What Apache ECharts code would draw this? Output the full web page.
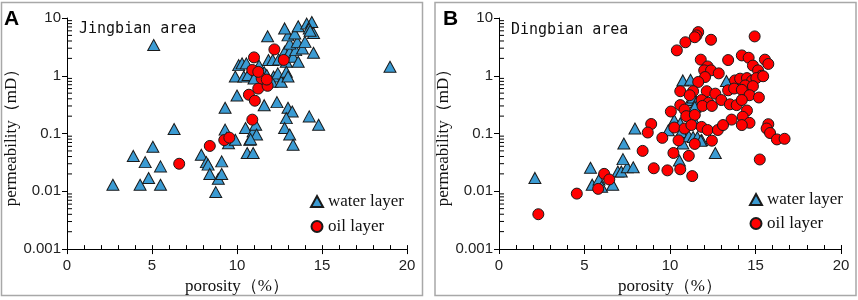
<!DOCTYPE html>
<html>
<head>
<meta charset="utf-8">
<script src="https://cdn.jsdelivr.net/npm/echarts@6/dist/echarts.min.js"></script>
<style>
  html, body { margin: 0; padding: 0; background: #fff; }
  #main { width: 858px; height: 300px; }
</style>
</head>
<body>
<div id="main"></div>
<script>
// porosity (%) vs permeability (mD)
var waterA = [
    [2.7, 0.013], [3.9, 0.041], [4.3, 0.013], [4.6, 0.032], [4.8, 0.017], [5.05, 0.059], [5.5, 0.027], [5.5, 0.013],
    [5.1, 3.4], [6.3, 0.12], [19.0, 1.43],
    [7.9, 0.043], [8.2, 0.032], [8.3, 0.029], [8.4, 0.020], [8.75, 0.0097], [8.9, 0.0165], [9.1, 0.033], [9.1, 0.020],
    [9.3, 0.117], [9.3, 0.28], [9.4, 0.084], [9.5, 0.068], [9.9, 0.078], [10.0, 0.455],
    [10.5, 0.125], [10.6, 0.046], [10.75, 0.078], [10.95, 0.046], [10.95, 0.109], [11.1, 0.142], [11.15, 0.096], [10.8, 0.08],
    [9.9, 0.97], [10.1, 1.53], [10.3, 1.64], [10.55, 1.64], [10.4, 0.97], [10.65, 1.03], [11.0, 0.9], [11.3, 1.5],
    [11.6, 1.15], [11.75, 1.03], [11.8, 4.84], [11.85, 1.87], [12.1, 1.87], [12.15, 0.97], [12.05, 0.79], [12.4, 1.1],
    [12.45, 1.92], [12.6, 0.79], [12.9, 1.75], [12.9, 1.17], [13.0, 0.97], [12.8, 2.6], [13.1, 2.6], [13.3, 2.14],
    [13.45, 2.78], [13.6, 1.75], [13.85, 2.97], [14.5, 2.5], [13.1, 3.6], [13.55, 3.86], [14.0, 3.86], [13.0, 5.0],
    [13.4, 5.4], [12.8, 6.6], [13.6, 7.2], [14.1, 8.0], [14.4, 8.5], [14.25, 6.6], [14.5, 5.5], [14.3, 6.0],
    [11.6, 0.31], [12.35, 0.35], [13.0, 0.28], [13.25, 0.24], [12.9, 0.185], [12.8, 0.125], [13.1, 0.096], [13.3, 0.064],
    [14.25, 0.198], [14.8, 0.142]
];
var oilA = [
    [6.6, 0.030], [8.4, 0.061], [9.25, 0.077], [9.55, 0.085], [10.9, 0.174], [10.7, 0.47], [11.05, 0.37], [11.25, 0.6],
    [11.8, 0.67], [11.45, 0.9], [11.75, 0.86], [10.9, 1.26], [11.25, 1.17], [11.0, 2.08], [12.2, 2.86], [12.75, 1.88]
];
var waterB = [
    [2.1, 0.017], [5.35, 0.0255], [5.45, 0.013], [5.85, 0.016], [6.0, 0.012], [6.65, 0.013], [6.95, 0.022], [7.15, 0.022],
    [7.5, 0.026], [7.85, 0.026], [7.25, 0.036], [7.3, 0.067], [7.95, 0.122], [9.9, 0.114], [10.25, 0.17], [10.6, 0.15],
    [10.65, 0.106], [10.75, 0.067], [10.55, 0.034], [11.1, 0.09], [11.35, 0.087], [11.6, 0.086], [11.85, 0.077],
    [11.45, 0.16], [11.2, 0.38], [11.35, 0.42], [11.55, 0.35], [11.45, 0.29], [10.75, 0.83], [11.2, 0.85], [13.3, 0.81],
    [12.65, 0.046], [11.8, 0.075]
];
var oilB = [
    [11.65, 5.7], [11.55, 5.0], [11.45, 4.65], [10.9, 3.8], [10.4, 2.75], [12.4, 4.2], [14.95, 4.8], [11.8, 1.9],
    [13.4, 1.87], [14.2, 2.25], [14.6, 2.05], [14.85, 1.5], [15.55, 1.9], [15.75, 1.6], [15.15, 1.24], [15.35, 1.0],
    [12.2, 1.45], [12.0, 1.24], [12.4, 1.24], [12.85, 1.1], [12.05, 0.95], [11.65, 0.78], [13.8, 0.83], [14.1, 0.89],
    [14.5, 0.91], [14.8, 0.82], [15.05, 0.91], [15.45, 0.98], [14.4, 0.68], [14.85, 0.66], [13.4, 0.56], [13.75, 0.6],
    [10.6, 0.54], [11.35, 0.54], [12.15, 0.54], [12.65, 0.49], [11.15, 0.46], [14.2, 0.57], [14.65, 0.46], [15.2, 0.42],
    [13.0, 0.38], [11.85, 0.38], [12.25, 0.34], [11.9, 0.3], [12.45, 0.3], [13.5, 0.32], [13.9, 0.31], [14.2, 0.38],
    [14.5, 0.25], [10.6, 0.31], [10.85, 0.26], [10.05, 0.24], [10.95, 0.2], [11.45, 0.21], [14.25, 0.195], [13.6, 0.174],
    [14.65, 0.153], [14.2, 0.14], [15.75, 0.145], [15.65, 0.122], [15.85, 0.102], [16.25, 0.079], [16.7, 0.081],
    [8.9, 0.146], [8.7, 0.104], [10.25, 0.127], [10.85, 0.122], [11.25, 0.14], [11.85, 0.13], [12.2, 0.115], [12.8, 0.115],
    [13.1, 0.14], [12.45, 0.075], [9.55, 0.084], [10.5, 0.076], [11.45, 0.066], [8.4, 0.05], [10.2, 0.046], [11.1, 0.041],
    [15.25, 0.0355], [9.05, 0.025], [9.85, 0.023], [10.6, 0.024], [11.3, 0.0183], [6.15, 0.02], [6.45, 0.016],
    [5.8, 0.011], [4.55, 0.0091], [2.3, 0.004]
];

var yTickLabels = ['0.001', '0.01', '0.1', '1', '10'];
var yMinorValues = [];
[0.001, 0.01, 0.1, 1].forEach(function (base) {
    for (var k = 2; k <= 9; k++) yMinorValues.push(base * k);
});

var WATER_COLOR = '#3b9bd3';
var OIL_COLOR = '#ff0000';
var SERIF = '"Liberation Serif", "Times New Roman", serif';
var SANS = '"Liberation Sans", Arial, sans-serif';

var myChart = echarts.init(document.getElementById('main'));

function majorXAxis(grid) {
    return {
        type: 'value', gridIndex: grid, min: 0, max: 20, interval: 5,
        name: 'porosity（%）', nameLocation: 'middle', nameGap: 28,
        nameTextStyle: { fontFamily: SERIF, fontSize: 17, color: '#111' },
        axisLine: { lineStyle: { color: '#000', width: 1 } },
        axisTick: { length: 5, lineStyle: { color: '#000' } },
        axisLabel: { fontFamily: SANS, fontSize: 15, color: '#222', margin: 9 },
        splitLine: { show: false }
    };
}

function minorXAxis(grid) {
    return {
        type: 'value', gridIndex: grid, min: 0, max: 20, interval: 1, position: 'bottom',
        axisLine: { show: false },
        axisTick: { inside: true, length: 4, lineStyle: { color: '#000' } },
        axisLabel: { show: false },
        splitLine: { show: false }
    };
}

function logYAxis(grid) {
    return {
        type: 'log', logBase: 10, gridIndex: grid, min: 0.001, max: 10,
        name: 'permeability（mD）', nameLocation: 'middle', nameGap: 34, nameRotate: 90,
        nameTextStyle: { fontFamily: SERIF, fontSize: 17, color: '#111' },
        axisLine: { show: true, lineStyle: { color: '#000', width: 1 } },
        axisTick: { show: true, length: 5, lineStyle: { color: '#000' } },
        axisLabel: {
            fontFamily: SANS, fontSize: 15, color: '#222', margin: 6,
            formatter: function (v) {
                return yTickLabels[Math.round(Math.log10(v)) + 3];
            }
        },
        splitLine: { show: false }
    };
}

function minorYTicks(xi, yi) {
    return {
        type: 'custom', xAxisIndex: xi, yAxisIndex: yi, silent: true, clip: false, z: 5,
        data: yMinorValues.map(function (v) { return [0, v]; }),
        renderItem: function (params, api) {
            var p = api.coord([0, api.value(1)]);
            return {
                type: 'line',
                shape: { x1: p[0], y1: p[1], x2: p[0] + 5, y2: p[1] },
                style: { stroke: '#000', lineWidth: 1 }
            };
        }
    };
}

function scatter(name, data, xi, yi) {
    var isWater = name === 'water layer';
    return {
        name: name, type: 'scatter', xAxisIndex: xi, yAxisIndex: yi, data: data,
        symbol: isWater ? 'triangle' : 'circle',
        symbolSize: isWater ? [12, 11] : 11,
        itemStyle: { color: isWater ? WATER_COLOR : OIL_COLOR, borderColor: '#1a1a1a', borderWidth: 1, opacity: 1 },
        z: isWater ? 2 : 3
    };
}

function legendAt(left, top, gap) {
    return {
        orient: 'vertical', left: left, top: top, itemGap: gap, padding: 0,
        itemWidth: 12, itemHeight: 11, selectedMode: false,
        data: ['water layer', 'oil layer'],
        textStyle: { fontFamily: SERIF, fontSize: 17, color: '#111', lineHeight: 17 }
    };
}

var option = {
    animation: false,
    backgroundColor: '#fff',
    grid: [
        { left: 67, top: 18, width: 340, height: 232 },
        { left: 499, top: 18, width: 342, height: 231 }
    ],
    xAxis: [majorXAxis(0), minorXAxis(0), majorXAxis(1), minorXAxis(1)],
    yAxis: [logYAxis(0), logYAxis(1)],
    legend: [legendAt(310, 193, 8), legendAt(749, 191, 7)],
    series: [
        scatter('water layer', waterA, 0, 0),
        scatter('oil layer', oilA, 0, 0),
        scatter('water layer', waterB, 2, 1),
        scatter('oil layer', oilB, 2, 1),
        minorYTicks(0, 0),
        minorYTicks(2, 1)
    ],
    graphic: [
        { type: 'rect', shape: { x: 1.5, y: 2.5, width: 421, height: 293 }, style: { fill: null, stroke: '#a8a8a8', lineWidth: 1.5 }, silent: true },
        { type: 'rect', shape: { x: 435, y: 2.5, width: 421, height: 293 }, style: { fill: null, stroke: '#a8a8a8', lineWidth: 1.5 }, silent: true },
        { type: 'text', left: 4, top: 9, style: { text: 'A', font: 'bold 21px "Liberation Sans", Arial', fill: '#000' } },
        { type: 'text', left: 443, top: 9, style: { text: 'B', font: 'bold 21px "Liberation Sans", Arial', fill: '#000' } },
        { type: 'text', left: 79, top: 22, style: { text: 'Jingbian area', font: '15px "DejaVu Sans Mono", "Liberation Mono", monospace', fill: '#111' } },
        { type: 'text', left: 511, top: 23, style: { text: 'Dingbian area', font: '15px "DejaVu Sans Mono", "Liberation Mono", monospace', fill: '#111' } }
    ]
};

myChart.setOption(option);
</script>
</body>
</html>
